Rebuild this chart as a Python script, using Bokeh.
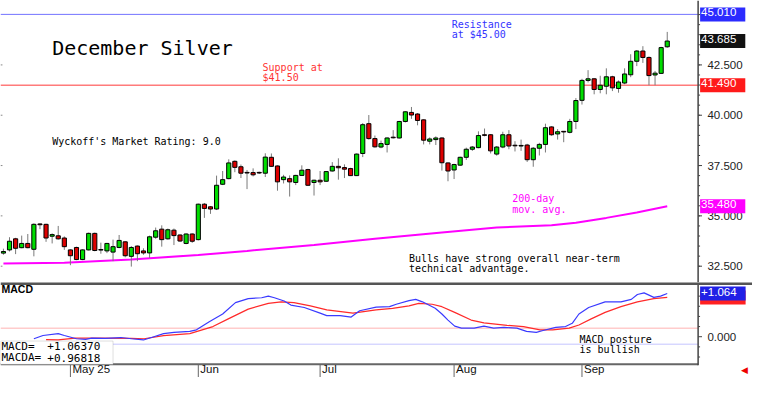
from bokeh.plotting import figure
from bokeh.layouts import column
from bokeh.models import Range1d, Label, Span, BoxAnnotation, ColumnDataSource
from bokeh.core.properties import value
from bokeh.embed import file_html
from bokeh.resources import INLINE

# ---------------- data ----------------
day = list(range(1, 111))
opens = [33.15, 33.31, 33.86, 33.42, 33.63, 33.34, 34.60, 34.58, 33.99, 34.01,
         33.90, 33.31, 33.43, 32.83, 33.31, 34.13, 33.33, 33.26, 33.20, 33.43,
         33.71, 32.99, 33.50, 33.26, 33.16, 33.94, 34.34, 33.86, 34.29, 34.05,
         33.63, 34.10, 33.82, 35.58, 35.45, 35.34, 36.57, 36.85, 37.71, 37.44,
         37.16, 37.15, 37.16, 37.12, 37.91, 37.48, 36.80, 36.85, 36.66, 37.01,
         37.30, 36.66, 36.77, 36.72, 37.23, 37.46, 37.40, 37.35, 37.00, 38.10,
         39.58, 38.84, 38.42, 38.55, 38.91, 38.87, 39.69, 40.14, 40.06, 39.77,
         38.71, 38.79, 38.87, 37.63, 37.28, 37.52, 37.91, 38.31, 38.39, 39.03,
         39.03, 38.07, 38.42, 39.03, 38.51, 38.47, 38.52, 37.79, 38.36, 38.55,
         39.42, 39.07, 39.20, 39.15, 39.69, 40.74, 41.73, 41.81, 41.28, 41.44,
         41.91, 41.33, 41.60, 42.01, 42.68, 43.19, 42.87, 42.00, 42.08, 43.40]
highs = [33.37, 33.94, 33.91, 34.02, 34.10, 34.63, 34.63, 34.61, 34.13, 34.50,
         33.98, 33.34, 33.47, 33.34, 34.17, 34.17, 33.67, 33.66, 33.82, 34.05,
         33.74, 33.50, 33.53, 33.39, 34.02, 34.42, 34.53, 34.37, 34.37, 34.08,
         34.13, 34.13, 35.61, 35.64, 35.49, 37.00, 37.23, 37.81, 37.76, 37.55,
         37.28, 37.36, 37.20, 38.11, 38.10, 37.51, 37.04, 37.01, 37.04, 37.51,
         37.34, 36.80, 37.23, 37.23, 37.67, 37.86, 37.56, 37.39, 38.10, 39.61,
         40.01, 38.99, 38.74, 38.90, 39.26, 39.72, 40.20, 40.41, 40.11, 39.80,
         38.90, 38.95, 38.90, 37.66, 37.59, 37.94, 38.39, 38.47, 39.20, 39.34,
         39.06, 38.47, 39.18, 39.26, 38.71, 38.79, 38.58, 38.42, 38.63, 39.58,
         39.45, 39.31, 39.21, 39.82, 40.85, 41.81, 42.24, 41.84, 41.96, 42.33,
         41.96, 41.73, 42.33, 43.03, 43.24, 43.43, 42.92, 42.20, 43.40, 44.14]
lows = [33.07, 33.23, 33.10, 33.39, 33.39, 32.99, 34.34, 33.71, 33.63, 33.82,
        33.31, 32.55, 32.80, 32.80, 33.28, 33.24, 33.12, 33.15, 32.75, 33.39,
        32.94, 32.48, 32.75, 33.07, 32.91, 33.86, 33.47, 33.82, 33.55, 33.71,
        33.59, 33.66, 33.78, 34.90, 35.10, 35.29, 36.53, 36.82, 37.17, 36.88,
        36.33, 36.96, 37.08, 36.93, 37.43, 36.25, 36.61, 35.96, 36.53, 36.98,
        36.49, 36.01, 36.53, 36.69, 37.20, 36.80, 36.88, 36.98, 36.98, 37.92,
        38.79, 38.39, 38.36, 38.15, 38.84, 38.84, 39.64, 39.82, 39.50, 38.55,
        38.55, 38.52, 37.25, 36.72, 36.83, 37.48, 37.78, 38.23, 38.36, 38.95,
        38.10, 37.99, 38.36, 38.31, 38.20, 38.23, 37.68, 37.44, 38.00, 38.15,
        38.98, 38.79, 38.66, 39.10, 39.31, 40.53, 41.63, 41.04, 41.09, 41.04,
        41.20, 41.12, 41.54, 41.89, 42.44, 42.60, 41.49, 41.49, 42.05, 43.35]
closes = [33.23, 33.74, 33.39, 33.63, 33.42, 34.58, 34.56, 33.90, 34.07, 33.86,
          33.47, 33.02, 32.83, 33.31, 34.13, 33.28, 33.30, 33.63, 33.47, 33.78,
          33.02, 33.43, 33.12, 33.16, 33.96, 34.26, 33.82, 34.31, 34.02, 33.75,
          34.10, 33.74, 35.58, 35.37, 35.34, 36.52, 36.80, 37.63, 37.41, 37.12,
          37.13, 37.04, 37.13, 37.92, 37.46, 36.69, 36.93, 36.69, 37.01, 37.27,
          36.52, 36.77, 36.69, 37.20, 37.46, 37.39, 37.32, 37.00, 38.07, 39.53,
          38.84, 38.43, 38.59, 38.87, 38.88, 39.69, 40.17, 40.01, 39.74, 38.76,
          38.82, 38.87, 37.64, 37.23, 37.55, 37.91, 38.31, 38.42, 38.99, 39.00,
          38.23, 38.42, 39.03, 38.47, 38.48, 38.50, 37.79, 38.36, 38.55, 39.38,
          39.03, 39.18, 39.17, 39.69, 40.73, 41.73, 41.81, 41.28, 41.49, 41.91,
          41.36, 41.65, 42.05, 42.68, 43.19, 42.87, 41.97, 42.09, 43.36, 43.685]

ma_day = [1, 11, 22, 33, 41, 52, 62, 73, 82, 91, 95, 100, 105, 110]
ma_val = [32.64, 32.67, 32.83, 33.06, 33.26, 33.55, 33.86, 34.18, 34.42, 34.53,
          34.66, 34.90, 35.17, 35.48]

macd_day = [6, 7.5, 10, 11, 13, 14.5, 15.5, 17.7, 20.3, 22, 24, 25.7, 27.3, 29,
            31.6, 32.7, 34.8, 37, 39.1, 41.2, 43.4, 44.5, 45.5, 47.1, 48.2, 50.4,
            53, 54.1, 56.3, 58.1, 59.5, 62.2, 64.4, 65.5, 67.6, 68.7, 69.8, 71.9,
            73, 74, 75.1, 76.2, 78.3, 79.9, 81.5, 83.2, 85.3, 86.9, 88.5, 89.6,
            91.7, 93.3, 94.4, 95.5, 97.1, 99.8, 102.4, 104.1, 105.1, 106.2,
            107.8, 108.9, 110]
macd_val = [-0.05, 0.03, 0.075, 0.03, -0.05, -0.067, -0.035, -0.04, -0.02, -0.05,
            -0.08, 0.0, 0.075, 0.106, 0.13, 0.17, 0.37, 0.56, 0.84, 0.94, 0.96,
            1.0, 0.96, 0.88, 0.78, 0.72, 0.58, 0.52, 0.52, 0.485, 0.64, 0.73,
            0.74, 0.80, 0.89, 0.92, 0.86, 0.70, 0.56, 0.41, 0.26, 0.21, 0.21,
            0.26, 0.21, 0.23, 0.21, 0.13, 0.106, 0.154, 0.23, 0.25, 0.33, 0.56,
            0.72, 0.86, 0.86, 0.92, 1.04, 1.08, 0.97, 1.0, 1.064]
sig_day = [8, 10, 12.8, 16.6, 22, 24.1, 27.3, 31.6, 35.4, 38, 41.2, 44.5, 46.6,
           48.7, 51.4, 54.1, 58.4, 62.2, 64.9, 67.6, 69.2, 71.4, 73, 75.1, 77.8,
           79.9, 83.7, 86.4, 89.1, 91.2, 93.9, 95.5, 97.6, 99.8, 102.4, 105.1,
           107.8, 110]
sig_val = [-0.07, -0.08, -0.035, -0.035, -0.043, -0.05, 0.028, 0.075, 0.25, 0.445,
           0.68, 0.82, 0.86, 0.84, 0.76, 0.66, 0.58, 0.66, 0.70, 0.76, 0.82, 0.80,
           0.74, 0.60, 0.41, 0.34, 0.28, 0.25, 0.17, 0.17, 0.21, 0.29, 0.445,
           0.60, 0.74, 0.86, 0.94, 0.968]

resistance = 45.01
support = 41.49
last_price = 43.685
ma_last = 35.48
macd_last = 1.0637
macda_last = 0.96818
macd_upper = 0.208
macd_lower = -0.184

price_ticks = [32.5, 35.0, 37.5, 40.0, 42.5]
price_minor = [32.5 + 0.5 * i for i in range(26)]
macd_ticks = [0.0]
macd_minor = [-0.5, -0.25, 0.25, 0.5, 0.75, 1.0]
month_pos = [12, 33, 53, 75, 96]
month_lab = ["May 25", "Jun", "Jul", "Aug", "Sep"]

# ---------------- layout / style constants ----------------
GREEN = "#00dd00"
RED = "#dd0000"
MONO = "DejaVu Sans Mono"
SANS = "Liberation Sans"
W = 752
X0, X1 = 0.52, 124.0          # visible index range (whole width)
AX = 115.07                   # index position of the right-hand price axis
TL = 0.16                     # index units per screen pixel (approx.)
LABX = 116.6                  # start of the tick labels

src = ColumnDataSource(dict(
    day=day, h=highs, l=lows,
    top=[max(o, c) for o, c in zip(opens, closes)],
    bot=[min(o, c) for o, c in zip(opens, closes)],
    color=[GREEN if c >= o else RED for o, c in zip(opens, closes)],
))

xr = Range1d(X0, X1)


def make_fig(h, yr):
    p = figure(width=W, height=h, x_range=xr, y_range=yr,
               x_axis_location=None, y_axis_location=None,
               output_backend="svg", toolbar_location=None, min_border=0)
    p.grid.visible = False
    p.outline_line_color = None
    return p


def txt(p, x, y, s, color="black", size="10px", font=MONO, **kw):
    p.add_layout(Label(x=x, y=y, text=s, text_color=color, text_font=font,
                       text_font_size=size, text_baseline="middle", **kw))


def box(p, y, s, bg):
    p.add_layout(Label(x=AX, y=y, x_offset=2, text=s,
                       text_color="white", text_font=SANS, text_font_size="11.5px",
                       text_align="left", text_baseline="middle",
                       background_fill_color=bg, background_fill_alpha=1.0,
                       padding=(1, 9, 1, 5)))


def hseg(p, y, color, width):
    p.segment(x0=[X0], y0=[y], x1=[AX], y1=[y], line_color=color, line_width=width)


# ---------------- main price panel ----------------
p1 = make_fig(282, Range1d(31.69, 45.70))

hseg(p1, resistance, "#7373ff", 1)
hseg(p1, support, "#ff7b7b", 1.5)

p1.line(ma_day, ma_val, line_color="#ff00ff", line_width=2)
p1.segment(x0="day", y0="h", x1="day", y1="l", source=src, line_color="#7a7a7a", line_width=1)
p1.vbar(x="day", width=0.68, top="top", bottom="bot", source=src,
        fill_color="color", line_color="black", line_width=1)

# right-hand price scale
p1.add_layout(Span(location=AX, dimension="height", line_color="#444444", line_width=1.5))
p1.segment(x0=[AX] * len(price_minor), y0=price_minor, x1=[AX + 2 * TL] * len(price_minor),
           y1=price_minor, line_color="#444444", line_width=1)
p1.segment(x0=[AX] * len(price_ticks), y0=price_ticks, x1=[AX + 4 * TL] * len(price_ticks),
           y1=price_ticks, line_color="#444444", line_width=1)
p1.segment(x0=[X0] * len(price_ticks), y0=price_ticks, x1=[X0 + 2 * TL] * len(price_ticks),
           y1=price_ticks, line_color="#888888", line_width=1)
p1.text(x=[LABX] * len(price_ticks), y=price_ticks, text=["%.3f" % t for t in price_ticks],
        text_font=value(SANS), text_font_size="11.5px", text_color="#222222",
        text_baseline="middle", text_align="left")

txt(p1, 9.0, 43.32, "December Silver", size="20px")
txt(p1, 9.0, 38.69, "Wyckoff's Market Rating: 9.0")
txt(p1, 43.55, 42.35, "Support at", color="#ff3333")
txt(p1, 43.55, 41.87, "$41.50", color="#ff3333")
txt(p1, 74.6, 44.49, "Resistance", color="#3333ff")
txt(p1, 74.6, 44.01, "at $45.00", color="#3333ff")
txt(p1, 84.55, 35.85, "200-day", color="#ff00ff")
txt(p1, 84.55, 35.33, "mov. avg.", color="#ff00ff")
txt(p1, 67.6, 32.90, "Bulls have strong overall near-term")
txt(p1, 67.6, 32.41, "technical advantage.")

box(p1, resistance, "%.3f" % resistance, "#2b2bff")
box(p1, last_price, "%.3f" % last_price, "#111111")
box(p1, support, "%.3f" % support, "#ff1a1a")
box(p1, ma_last, "%.3f" % ma_last, "#ff00ff")

# ---------------- MACD panel ----------------
M_TOP, M_BOT, M_END = 1.336, -0.681, -1.005
p2 = make_fig(95, Range1d(M_END, M_TOP))

p2.add_layout(Span(location=1.312, dimension="width", line_color="#555555", line_width=3))
hseg(p2, macd_upper, "#ffcccc", 1.5)
hseg(p2, macd_lower, "#c4c4ff", 1)
hseg(p2, M_BOT, "#666666", 2)

p2.line(sig_day, sig_val, line_color="#ff2a2a", line_width=1.2)
p2.line(macd_day, macd_val, line_color="#3a3aff", line_width=1.2)

# right-hand MACD scale
p2.segment(x0=[AX], y0=[M_BOT - 0.02], x1=[AX], y1=[M_TOP], line_color="#444444", line_width=1.5)
p2.segment(x0=[AX] * len(macd_minor), y0=macd_minor, x1=[AX + 2 * TL] * len(macd_minor),
           y1=macd_minor, line_color="#444444", line_width=1)
p2.segment(x0=[AX] * len(macd_ticks), y0=macd_ticks, x1=[AX + 4 * TL] * len(macd_ticks),
           y1=macd_ticks, line_color="#444444", line_width=1)
p2.text(x=[LABX] * len(macd_ticks), y=macd_ticks, text=["%.3f" % t for t in macd_ticks],
        text_font=value(SANS), text_font_size="11.5px", text_color="#222222",
        text_baseline="middle", text_align="left")

# date scale
p2.segment(x0=month_pos, y0=[M_BOT] * len(month_pos), x1=month_pos, y1=[M_END] * len(month_pos),
           line_color="#666666", line_width=1)
p2.text(x=month_pos, y=[-0.80] * len(month_pos), text=month_lab, x_offset=2,
        text_font=value(SANS), text_font_size="11.5px", text_color="#111111",
        text_baseline="middle", text_align="left")
p2.text(x=[122.7], y=[-0.82], text=["\u25c0"], text_font=value("DejaVu Sans"),
        text_font_size="9px", text_color="#ee0000", text_baseline="middle", text_align="center")

p2.add_layout(BoxAnnotation(left=X0, right=19.0, top=-0.106, bottom=M_BOT,
                            fill_color="white", fill_alpha=1.0,
                            line_color="#999999", line_width=1))
txt(p2, 0.68, 1.17, "MACD", font=SANS, size="10.5px", text_font_style="bold")
txt(p2, 0.68, -0.241, "MACD=", size="11px")
txt(p2, 0.68, -0.515, "MACDA=", size="11px")
txt(p2, 8.2, -0.241, "%+.5f" % macd_last, size="11px")
txt(p2, 8.2, -0.515, "%+.5f" % macda_last, size="11px")
txt(p2, 95.6, -0.078, "MACD posture")
txt(p2, 95.6, -0.314, "is bullish")

box(p2, macda_last, "%+.3f" % macda_last, "#ff2020")
box(p2, macd_last, "%+.3f" % macd_last, "#2020e6")

layout = column(p1, p2, spacing=0)
open("out.html", "w").write(file_html(layout, INLINE))
